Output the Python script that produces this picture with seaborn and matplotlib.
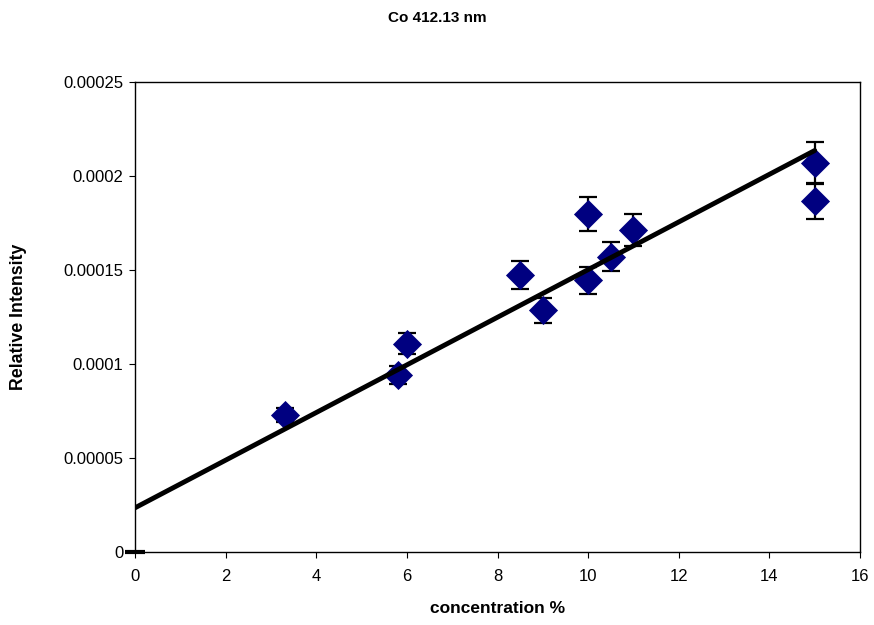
import matplotlib
matplotlib.use("Agg")
import matplotlib.pyplot as plt
import seaborn as sns
import pandas as pd
import numpy as np

# data
conc = [3.3, 5.8, 6.0, 8.5, 9.0, 10.0, 10.0, 10.5, 11.0, 15.0, 15.0]
intensity = [7.29e-5, 9.41e-5, 1.108e-4, 1.475e-4, 1.285e-4, 1.797e-4,
             1.444e-4, 1.571e-4, 1.714e-4, 2.07e-4, 1.864e-4]
err = [3.7e-6, 4.8e-6, 5.5e-6, 7.4e-6, 6.5e-6, 9.0e-6,
       7.2e-6, 7.9e-6, 8.5e-6, 1.08e-5, 9.5e-6]
trend_x = [0.0, 15.0]
trend_y = [2.35e-5, 2.135e-4]
x_ticks = [0, 2, 4, 6, 8, 10, 12, 14, 16]
y_ticks = [0, 0.00005, 0.0001, 0.00015, 0.0002, 0.00025]
y_ticklabels = ["0", "0.00005", "0.0001", "0.00015", "0.0002", "0.00025"]

sns.set_style("white")
plt.rcParams['font.family'] = ['Liberation Sans', 'DejaVu Sans']
plt.rcParams['text.color'] = 'black'
plt.rcParams['axes.labelcolor'] = 'black'
plt.rcParams['xtick.color'] = 'black'
plt.rcParams['ytick.color'] = 'black'

df = pd.DataFrame({"conc": conc, "intensity": intensity, "err": err})
tdf = pd.DataFrame({"x": trend_x, "y": trend_y})

fig = plt.figure(figsize=(8.74, 6.25), dpi=100)
ax = fig.add_axes([0.1545, 0.1168, 0.8295, 0.7522])

ax.errorbar(df["conc"], df["intensity"], yerr=df["err"], fmt="none",
            ecolor="black", elinewidth=1.6, capsize=6.5, capthick=1.6, zorder=2)
sns.scatterplot(data=df, x="conc", y="intensity", marker="D", s=220,
                color="#000080", edgecolor="#000080", linewidth=0, ax=ax, zorder=3)
sns.lineplot(data=tdf, x="x", y="y", color="black", linewidth=3.5, ax=ax, zorder=4)
ax.plot([0], [0], marker="_", markersize=14, mew=3, color="black", clip_on=False, zorder=5)

ax.set_xlim(0, 16)
ax.set_ylim(0, 0.00025)
ax.set_xticks(x_ticks)
ax.set_xticklabels([str(t) for t in x_ticks])
ax.set_yticks(y_ticks)
ax.set_yticklabels(y_ticklabels)
ax.tick_params(axis="both", which="both", direction="out", length=4.5, width=0.8,
               labelsize=12, colors="black", bottom=True, left=True)
ax.tick_params(axis="x", pad=8)
ax.tick_params(axis="y", pad=4)
for s in ax.spines.values():
    s.set_color("black")
    s.set_linewidth(1.0)

ax.set_xlabel("concentration %", fontsize=12.5, fontweight="bold", labelpad=12, color="black")
ax.set_ylabel("Relative Intensity", fontsize=12.8, fontweight="bold", labelpad=26, color="black")
fig.text(0.5, 0.9715, "Co 412.13 nm", ha="center", va="center",
         fontsize=11, fontweight="bold", color="black")

fig.savefig("out.png", dpi=100)
